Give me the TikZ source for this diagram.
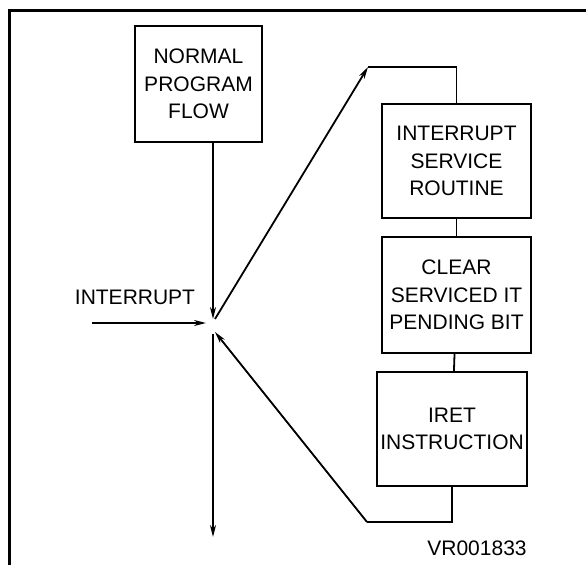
\documentclass[tikz,border=0pt]{standalone}
\usepackage{fontspec}
\setmainfont{Liberation Sans}
\usetikzlibrary{arrows.meta}

\tikzset{
  blk/.style={draw, line width=1.8pt, align=center, inner sep=0pt,
    font=\fontsize{21}{27.5}\selectfont},
  lbl/.style={inner sep=0pt, font=\fontsize{21}{27.5}\selectfont},
  flow/.style={line width=1.8pt, -{Stealth[length=12pt,width=6pt]}},
  wire/.style={line width=1.8pt}
}

\begin{document}
\begin{tikzpicture}[x=1pt,y=-1pt]
        \useasboundingbox (0,0) rectangle (586,565);
        \draw[line width=3pt] (9,565) -- (9,10) -- (586,10);

        \node[blk, minimum width=127pt, minimum height=116pt] (normal) at (198.5,84)
        {NORMAL\\PROGRAM\\FLOW};
        \node[blk, minimum width=149pt, minimum height=114pt] (isr) at (456.5,161)
        {INTERRUPT\\SERVICE\\ROUTINE};
        \node[blk, minimum width=149pt, minimum height=116pt] (clr) at (456.5,295)
        {CLEAR\\SERVICED IT\\PENDING BIT};
        \node[blk, minimum width=150pt, minimum height=114pt] (iret) at (452,429)
        {IRET\\INSTRUCTION};

        \node[lbl] (irq) at (135,297) {INTERRUPT};
        \node[lbl] (ref) at (477,548) {VR001833};

        \coordinate (hubin) at (213,319);
        \coordinate (hubout) at (215,319);
        \coordinate (hubret) at (215,332);
        \coordinate (hubdown) at (213,334);
        \coordinate (irqstart) at (92,323);
        \coordinate (irqend) at (206,323);
        \coordinate (top) at (368,67);
        \coordinate (bot) at (367,522);
        \coordinate (finish) at (213,537);

        \draw[flow] (normal.south -| hubin) -- (hubin);
        \draw[flow] (irqstart) -- (irqend);
        \draw[flow] (hubout) -- (top);
        \draw[wire] (top) -| (isr.north);
        \draw[wire] (isr) -- (clr);
        \draw[wire] (clr) -- (iret);
        \draw[wire] (iret.south) |- (bot);
        \draw[flow] (bot) -- (hubret);
        \draw[flow] (hubdown) -- (finish);

      \end{tikzpicture}
\end{document}
